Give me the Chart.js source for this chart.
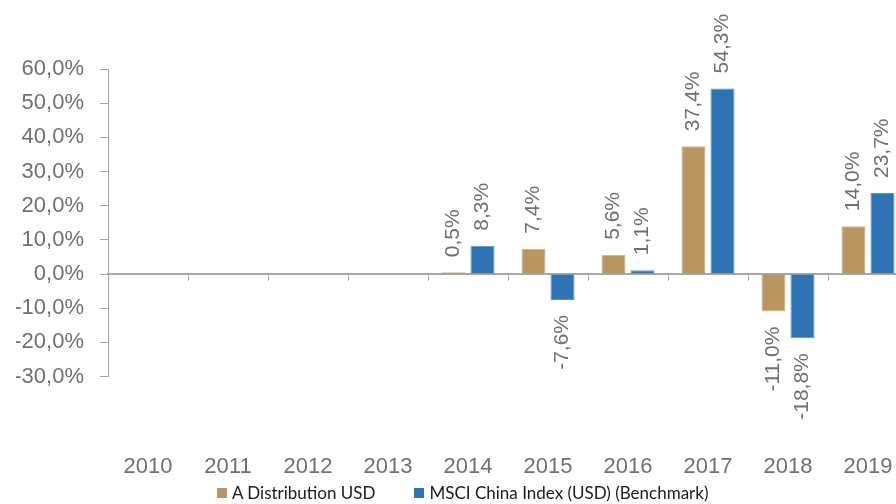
<!DOCTYPE html>
<html>
<head>
<meta charset="utf-8">
<script src="https://cdn.jsdelivr.net/npm/chart.js@4/dist/chart.umd.min.js"></script>
<style>
  html, body { margin: 0; padding: 0; background: #fff; overflow: hidden; }
  #wrap { position: relative; width: 908px; height: 504px; }
  #legend { position: absolute; left: 217px; top: 483px; display: flex; align-items: center;
            font: 17px Lato, sans-serif; color: #1a1a1a; line-height: 20px; white-space: nowrap; }
  #legend .box { width: 10px; height: 10px; margin-right: 5px; }
  #legend .item { display: flex; align-items: center; margin-right: 39px; }
</style>
</head>
<body>
<div id="wrap">
  <canvas id="perfChart" width="908" height="504"></canvas>
  <div id="legend"></div>
</div>
<script>
// -- categories and yearly returns (%) --
const years = ["2010", "2011", "2012", "2013", "2014", "2015", "2016", "2017", "2018", "2019"];
const fundReturns = [null, null, null, null, 0.5, 7.4, 5.6, 37.4, -11.0, 14.0];
const benchmarkReturns = [null, null, null, null, 8.3, -7.6, 1.1, 54.3, -18.8, 23.7];
const seriesNames = ["A Distribution USD", "MSCI China Index (USD) (Benchmark)"];
const yTicks = { min: -30, max: 60, step: 10 };

const gold = "#B9955F";
const blue = "#2E74B5";
const axisGrey = "#A6A6A6";
const textGrey = "#707070";

// -- 12,3% style --
function pct(v) {
    return v.toFixed(1).replace(".", ",") + "%";
}

// -- rotated value labels above / below each bar --
const barLabels = {
    id: "barLabels",
    afterDatasetsDraw(chart) {
        const ctx = chart.ctx;
        ctx.save();
        ctx.font = '21px "Liberation Sans", Arial, sans-serif';
        ctx.fillStyle = textGrey;
        ctx.textBaseline = "middle";
        chart.data.datasets.forEach((ds, i) => {
            chart.getDatasetMeta(i).data.forEach((bar, j) => {
                const v = ds.data[j];
                if (v === null || v === undefined) return;
                ctx.save();
                ctx.translate(bar.x, v >= 0 ? bar.y - 15 : bar.y + 15);
                ctx.rotate(-Math.PI / 2);
                ctx.textAlign = v >= 0 ? "left" : "right";
                ctx.fillText(pct(v), 0, 0);
                ctx.restore();
            });
        });
        ctx.restore();
    }
};

Chart.defaults.font.family = '"Liberation Sans", Arial, sans-serif';

const chart = new Chart(document.getElementById("perfChart"), {
    type: "bar",
    data: {
        labels: years,
        datasets: [
            {
                label: seriesNames[0],
                data: fundReturns,
                backgroundColor: gold,
                borderColor: "#CDB48C",
                borderWidth: 1,
                categoryPercentage: 0.725,
                barPercentage: 0.83
            },
            {
                label: seriesNames[1],
                data: benchmarkReturns,
                backgroundColor: blue,
                borderColor: "#5B93C9",
                borderWidth: 1,
                categoryPercentage: 0.725,
                barPercentage: 0.83
            }
        ]
    },
    options: {
        responsive: false,
        animation: false,
        devicePixelRatio: 1,
        layout: { padding: { left: 16, top: 69, right: 0, bottom: 24 } },
        plugins: {
            legend: { display: false },
            tooltip: { enabled: false }
        },
        scales: {
            // zero line with category tick marks
            x: {
                type: "category",
                position: { y: 0 },
                offset: true,
                grid: { offset: true, drawOnChartArea: false, drawTicks: true, tickLength: 6, color: axisGrey },
                border: { color: axisGrey, width: 2 },
                ticks: { display: false }
            },
            // year labels at the bottom
            x2: {
                type: "category",
                labels: years,
                position: "bottom",
                offset: true,
                grid: { display: false, drawTicks: false },
                border: { display: false },
                ticks: { color: textGrey, font: { size: 22 }, padding: 77, maxRotation: 0, autoSkip: false },
                afterFit: (s) => { s.paddingLeft = 0; s.paddingRight = 0; s.height = 103.5; }
            },
            y: {
                min: yTicks.min,
                max: yTicks.max,
                ticks: {
                    stepSize: yTicks.step,
                    autoSkip: false,
                    color: textGrey,
                    font: { size: 22 },
                    padding: 16,
                    callback: (v) => pct(v)
                },
                grid: { drawOnChartArea: false, drawTicks: true, tickLength: 8, color: axisGrey },
                border: { color: axisGrey, width: 1 },
                afterFit: (s) => { s.width = 92; }
            }
        }
    },
    plugins: [barLabels]
});

// -- legend in HTML under the chart --
const legendColors = [gold, blue];
document.getElementById("legend").innerHTML = seriesNames.map((name, i) =>
    `<span class="item"><span class="box" style="background:${legendColors[i]}"></span>${name}</span>`
).join("");
</script>
</body>
</html>
